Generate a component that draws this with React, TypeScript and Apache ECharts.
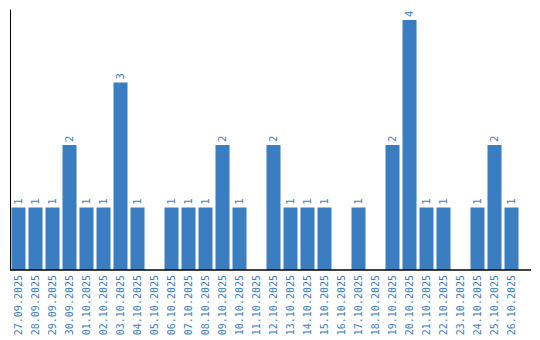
import React, { useEffect, useRef } from "react";
import * as echarts from "echarts";

const categories = [
  "27.09.2025", "28.09.2025", "29.09.2025", "30.09.2025", "01.10.2025",
  "02.10.2025", "03.10.2025", "04.10.2025", "05.10.2025", "06.10.2025",
  "07.10.2025", "08.10.2025", "09.10.2025", "10.10.2025", "11.10.2025",
  "12.10.2025", "13.10.2025", "14.10.2025", "15.10.2025", "16.10.2025",
  "17.10.2025", "18.10.2025", "19.10.2025", "20.10.2025", "21.10.2025",
  "22.10.2025", "23.10.2025", "24.10.2025", "25.10.2025", "26.10.2025",
];

const values = [
  1, 1, 1, 2, 1, 1, 3, 1, 0, 1,
  1, 1, 2, 1, 0, 2, 1, 1, 1, 0,
  1, 0, 2, 4, 1, 1, 0, 1, 2, 1,
];

const BLUE = "#3b7dc1";

export default function App() {
  const ref = useRef<HTMLDivElement>(null);
  useEffect(() => {
    if (!ref.current) return;
    const chart = echarts.init(ref.current, undefined, { renderer: "svg" });
    chart.setOption({
      animation: false,
      grid: { left: 10, top: 10, width: 510, bottom: 70, containLabel: false },
      xAxis: {
        type: "category",
        data: categories,
        axisLine: { show: false },
        axisTick: { show: false },
        axisLabel: {
          rotate: 90,
          interval: 0,
          margin: 5,
          color: BLUE,
          fontFamily: "DejaVu Sans Mono",
          fontSize: 10,
        },
      },
      yAxis: {
        type: "value",
        min: 0,
        max: 4.16,
        axisLine: { show: true, lineStyle: { color: "#000", width: 1 } },
        axisTick: { show: false },
        axisLabel: { show: false },
        splitLine: { show: false },
      },
      graphic: [
        {
          type: "line",
          shape: { x1: 10, y1: 270, x2: 531, y2: 270 },
          style: { stroke: "#000", lineWidth: 1.5 },
          z: 10,
        },
      ],
      series: [
        {
          type: "bar",
          data: values.map((v) => (v === 0 ? null : v)),
          barWidth: 14,
          itemStyle: { color: BLUE },
          label: {
            show: true,
            position: "top",
            rotate: 90,
            align: "left",
            verticalAlign: "middle",
            distance: 3,
            color: BLUE,
            fontFamily: "DejaVu Sans",
            fontSize: 10,
          },
        },
      ],
    });
    return () => chart.dispose();
  }, []);
  return <div ref={ref} style={{ width: 540, height: 340, position: "absolute", left: 0, top: 0 }} />;
}
